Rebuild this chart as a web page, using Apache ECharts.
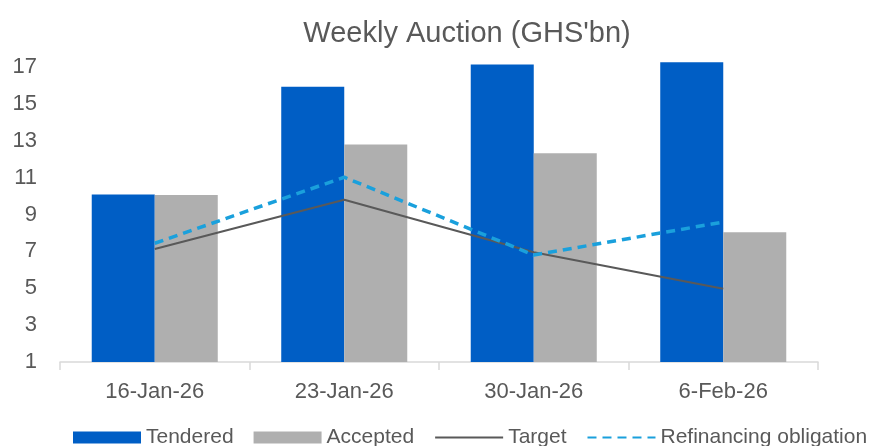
<!DOCTYPE html>
<html>
<head>
<meta charset="utf-8">
<script src="https://cdn.jsdelivr.net/npm/echarts@6/dist/echarts.min.js"></script>
<style>
html,body{margin:0;padding:0;background:#fff;}
#c{width:882px;height:446px;}
</style>
</head>
<body>
<div id="c"></div>
<script>
const categories = ['16-Jan-26', '23-Jan-26', '30-Jan-26', '6-Feb-26'];
const tendered = [10.09, 15.93, 17.14, 17.25];
const accepted = [10.06, 12.8, 12.32, 8.03];
const target = [7.13, 9.8, 6.95, 4.97];
const refinancing = [7.44, 11.02, 6.8, 8.59];
const yTicks = { min: 1, max: 17, interval: 2, axisTop: 17.4 };

const FONT = '"Liberation Sans", Arial, Helvetica, sans-serif';
const chart = echarts.init(document.getElementById('c'), null, { renderer: 'canvas' });
chart.setOption({
  animation: false,
  backgroundColor: '#ffffff',
  title: {
    text: "Weekly Auction (GHS'bn)",
    left: 462, textAlign: 'center', top: 14,
    textStyle: { fontFamily: FONT, fontSize: 29, fontWeight: 'normal', color: '#595959' }
  },
  legend: {
    left: 68, top: 422,
    itemWidth: 68, itemHeight: 12, itemGap: 20,
    textStyle: { fontFamily: FONT, fontSize: 21, color: '#595959' },
    data: [
      { name: 'Tendered', icon: 'rect' },
      { name: 'Accepted', icon: 'rect' },
      { name: 'Target', itemStyle: { opacity: 0 } },
      { name: 'Refinancing obligation', itemStyle: { opacity: 0 } }
    ]
  },
  grid: { left: 60, right: 64, top: 59.6, bottom: 84 },
  xAxis: {
    type: 'category',
    data: categories,
    boundaryGap: true,
    axisLine: { lineStyle: { color: '#d9d9d9', width: 1.5 } },
    axisTick: { show: true, length: 8, lineStyle: { color: '#d9d9d9', width: 1.5 } },
    axisLabel: { fontFamily: FONT, fontSize: 22, color: '#595959', margin: 19 }
  },
  yAxis: {
    type: 'value',
    min: yTicks.min, max: yTicks.axisTop, interval: yTicks.interval,
    splitLine: { show: false },
    axisLine: { show: false },
    axisTick: { show: false },
    axisLabel: { fontFamily: FONT, fontSize: 22, color: '#595959', margin: 23,
      formatter: v => (v > yTicks.max ? '' : String(v)) }
  },
  series: [
    { name: 'Tendered', type: 'bar', data: tendered, barGap: '0%', barCategoryGap: '33.5%',
      itemStyle: { color: '#005EC5' } },
    { name: 'Accepted', type: 'bar', data: accepted,
      itemStyle: { color: '#AFAFAF' } },
    { name: 'Target', type: 'line', data: target, symbol: 'none',
      lineStyle: { color: '#595959', width: 2 }, itemStyle: { color: '#595959' } },
    { name: 'Refinancing obligation', type: 'line', data: refinancing, symbol: 'none',
      lineStyle: { color: '#1AA0DC', width: 3.5, type: [9, 6] }, itemStyle: { color: '#1AA0DC' } }
  ]
});
</script>
</body>
</html>
